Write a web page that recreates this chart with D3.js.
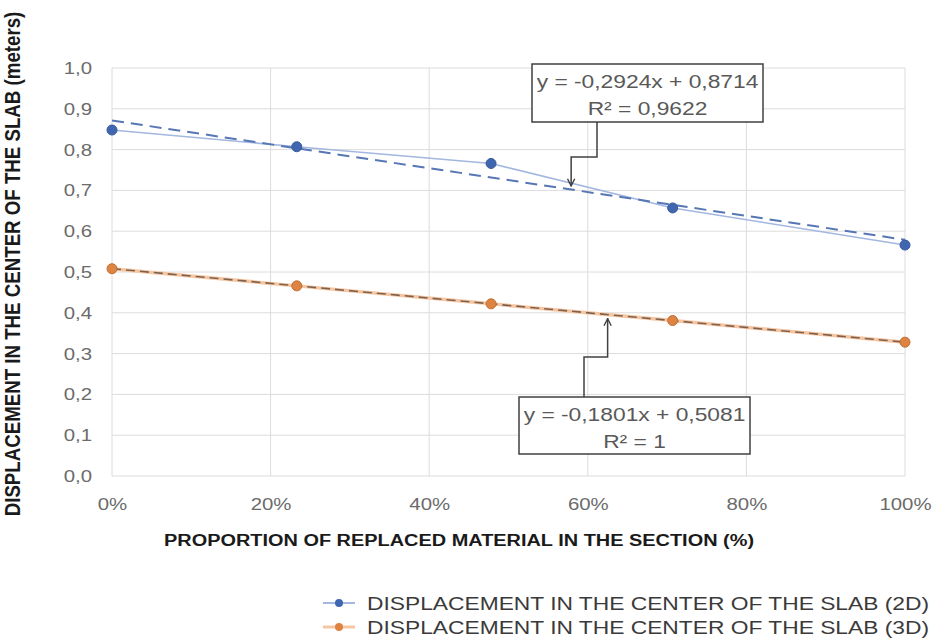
<!DOCTYPE html>
<html><head><meta charset="utf-8">
<script src="https://cdn.jsdelivr.net/npm/d3@7"></script>
<style>
body{margin:0;background:#fff;}
svg{display:block;font-family:"Liberation Sans",Arial,sans-serif;}
</style></head>
<body><svg id="c" width="933" height="641"></svg>
<script>
const proportions = [0, 0.233, 0.478, 0.707, 1];
const disp2D = [0.848, 0.807, 0.766, 0.657, 0.566];
const disp3D = [0.508, 0.466, 0.422, 0.381, 0.328];
const seriesNames = ["DISPLACEMENT IN THE CENTER OF THE SLAB (2D)", "DISPLACEMENT IN THE CENTER OF THE SLAB (3D)"];
const trend2D = {slope: -0.2924, intercept: 0.8714, label: ["y = -0,2924x + 0,8714", "R² = 0,9622"], at: 0.579};
const trend3D = {slope: -0.1801, intercept: 0.5081, label: ["y = -0,1801x + 0,5081", "R² = 1"], at: 0.625};
const xTicks = [0, 0.2, 0.4, 0.6, 0.8, 1];
const yTicks = [0, 0.1, 0.2, 0.3, 0.4, 0.5, 0.6, 0.7, 0.8, 0.9, 1];
const xTitle = "PROPORTION OF REPLACED MATERIAL IN THE SECTION (%)";
const yTitle = "DISPLACEMENT IN THE CENTER OF THE SLAB (meters)";

const SX = 1.2;
const svg = d3.select("#c");
const x = d3.scaleLinear().domain([0,1]).range([112,905]);
const y = d3.scaleLinear().domain([0,1]).range([476,68]);
const loc = d3.formatLocale({decimal:",", thousands:".", grouping:[3], currency:["","€"], percent:"%"});
const fy = loc.format(".1f"), fx = loc.format(".0%");

// gridlines
svg.append("g").selectAll("line").data(yTicks).join("line")
  .attr("x1",x(0)).attr("x2",x(1)).attr("y1",d=>y(d)).attr("y2",d=>y(d))
  .attr("stroke","#dcdcdc").attr("stroke-width",1);
svg.append("g").selectAll("line").data(xTicks).join("line")
  .attr("y1",y(0)).attr("y2",y(1)).attr("x1",d=>x(d)).attr("x2",d=>x(d))
  .attr("stroke","#dcdcdc").attr("stroke-width",1);

// axes
const gx = svg.append("g").attr("transform",`translate(0,${y(0)})`)
  .call(d3.axisBottom(x).tickValues(xTicks).tickFormat(fx).tickSize(0).tickPadding(22));
gx.select(".domain").remove();
gx.selectAll("text").attr("fill","#6b6b6b").style("font-size","17px")
  .attr("transform",`scale(${SX},1)`);
const gy = svg.append("g").attr("transform",`translate(${x(0)},0)`)
  .call(d3.axisLeft(y).tickValues(yTicks).tickFormat(fy).tickSize(0));
gy.select(".domain").remove();
gy.selectAll("text").attr("fill","#6b6b6b").style("font-size","17px")
  .attr("x",0).attr("transform",`translate(-20,0) scale(${SX},1)`);

// series lines
const line = d3.line().x(d=>x(d[0])).y(d=>y(d[1]));
const pts2 = proportions.map((p,i)=>[p,disp2D[i]]);
const pts3 = proportions.map((p,i)=>[p,disp3D[i]]);
svg.append("path").datum(pts3).attr("d",line).attr("fill","none")
  .attr("stroke","#f6c6a2").attr("stroke-width",3.5);
svg.append("path").datum(pts2).attr("d",line).attr("fill","none")
  .attr("stroke","#a3b7e0").attr("stroke-width",1.6);

// trendlines
function tline(t){ return [[0,t.intercept],[1,t.intercept+t.slope]]; }
svg.append("path").datum(tline(trend2D)).attr("d",line).attr("fill","none")
  .attr("stroke","#5676b4").attr("stroke-width",2).attr("stroke-dasharray","12,7");
svg.append("path").datum(tline(trend3D)).attr("d",line).attr("fill","none")
  .attr("stroke","#7d6250").attr("stroke-width",1.6).attr("stroke-dasharray","9,5");

// markers
svg.append("g").selectAll("circle").data(pts2).join("circle")
  .attr("cx",d=>x(d[0])).attr("cy",d=>y(d[1])).attr("r",5)
  .attr("fill","#4066b0").attr("stroke","#36599e").attr("stroke-width",1);
svg.append("g").selectAll("circle").data(pts3).join("circle")
  .attr("cx",d=>x(d[0])).attr("cy",d=>y(d[1])).attr("r",5)
  .attr("fill","#dd8443").attr("stroke","#c26d33").attr("stroke-width",1);

// callouts
svg.append("defs").append("marker").attr("id","arr").attr("viewBox","0 0 10 10")
  .attr("refX",9).attr("refY",5).attr("markerWidth",9).attr("markerHeight",9)
  .attr("orient","auto-start-reverse").attr("markerUnits","userSpaceOnUse")
  .append("path").attr("d","M1,1 L9,5 L1,9").attr("fill","none").attr("stroke","#404040").attr("stroke-width",1.5);

function callout(box, pathPts, lines){
  const g = svg.append("g");
  g.append("path").attr("d", d3.line()(pathPts)).attr("fill","none")
    .attr("stroke","#404040").attr("stroke-width",1.5).attr("marker-end","url(#arr)");
  g.append("rect").attr("x",box[0]).attr("y",box[1]).attr("width",box[2]-box[0]).attr("height",box[3]-box[1])
    .attr("fill","#fff").attr("stroke","#404040").attr("stroke-width",1.5);
  const cx = (box[0]+box[2])/2;
  lines.forEach((t,i)=>{
    g.append("text").attr("transform",`translate(${cx},${box[1]+24+i*26.5}) scale(${SX},1)`)
      .attr("text-anchor","middle").attr("fill","#595959").style("font-size","19px").text(t);
  });
}
const tip2 = [x(trend2D.at), 186];
callout([532,64,763,122], [[597,122],[597,157],[tip2[0],157],tip2], trend2D.label);
const tip3 = [x(trend3D.at), y(trend3D.intercept+trend3D.slope*trend3D.at)+4];
callout([519,397,750,454], [[584,397],[584,357],[tip3[0],357],tip3], trend3D.label);

// titles
svg.append("text").attr("transform",`translate(459,546) scale(${SX},1)`)
  .attr("text-anchor","middle").style("font-size","16.6px").style("font-weight","bold")
  .attr("fill","#1a1a1a").text(xTitle);
svg.append("text").attr("transform",`translate(20,264) scale(${SX},1) rotate(-90)`)
  .attr("text-anchor","middle").style("font-size","18.7px").style("font-weight","bold")
  .attr("fill","#1a1a1a").text(yTitle);

// legend
const colors = [["#a3b7e0","#4066b0"],["#f6c6a2","#dd8443"]];
seriesNames.forEach((n,i)=>{
  const ly = 603 + i*24;
  svg.append("line").attr("x1",323).attr("x2",355).attr("y1",ly).attr("y2",ly)
    .attr("stroke",colors[i][0]).attr("stroke-width",i?3:2);
  svg.append("circle").attr("cx",339).attr("cy",ly).attr("r",4).attr("fill",colors[i][1]);
  svg.append("text").attr("transform",`translate(367,${ly+7}) scale(${SX},1)`)
    .style("font-size","19px").attr("fill","#3a3a3a").text(n);
});
</script></body></html>
